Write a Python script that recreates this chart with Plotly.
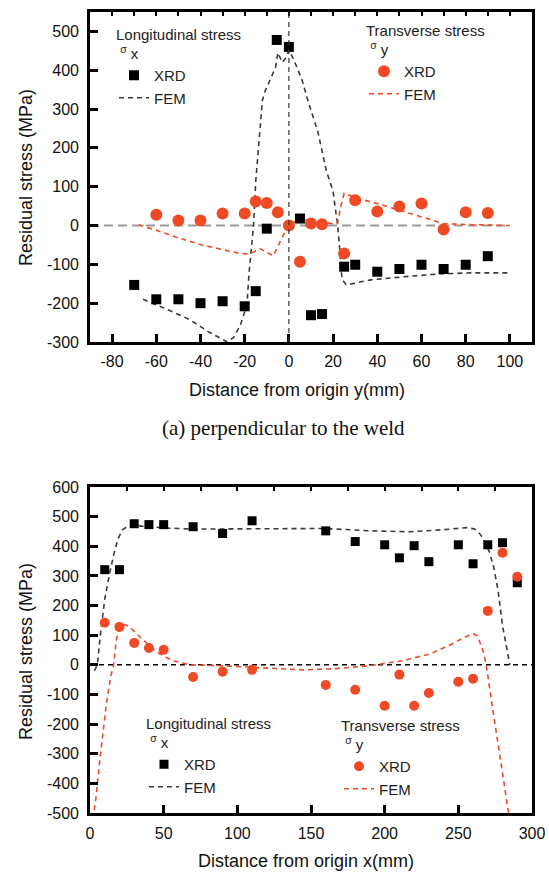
import plotly.graph_objects as go

W, H = 549, 872

# ---------------- (a) perpendicular to the weld ----------------
a_sx_xrd_pos = [-70, -60, -50, -40, -30, -20, -15, -10, -5.5, 0, 5, 10, 15, 25, 30, 40, 50, 60, 70, 80, 90]
a_sx_xrd_val = [-153, -190, -190, -200, -195, -208, -169, -8, 478, 460, 18, -231, -228, -106, -101, -119, -112, -101, -112, -101, -79]

a_sy_xrd_pos = [-60, -50, -40, -30, -20, -15, -10, -5, 0, 5, 10, 15, 25, 30, 40, 50, 60, 70, 80, 90]
a_sy_xrd_val = [28, 13, 13, 31, 31, 62, 58, 34, 0, -93, 5, 3, -72, 65, 36, 49, 57, -10, 34, 32]

a_sx_fem_pos = [-66, -55, -45, -36, -31, -28, -25, -22, -19, -18, -16, -15, -14, -12, -11, -8, -6, -5, -3, -1, 0,
                2, 4, 6, 9, 13, 17, 20, 21, 22, 23, 24, 26, 37, 52, 67, 82, 100]
a_sx_fem_val = [-190, -216, -242, -275, -290, -300, -288, -257, -205, -120, 0, 114, 184, 322, 343, 382, 408, 445, 420, 435, 452,
                430, 400, 374, 314, 244, 140, 88, 44, 3, -60, -138, -153, -140, -132, -125, -122, -122]

a_sy_fem_pos = [-68, -60, -50, -40, -30, -22, -19, -16, -13, -10, -7, -4, -1, 2, 5, 8, 12, 16, 20, 22, 23.5, 25,
                31, 41, 52, 63, 70, 78, 90, 100]
a_sy_fem_val = [2, -12, -32, -49, -62, -72, -73, -68, -60, -70, -78, -42, -8, 8, 14, 15, 12, 8, 4, 5, 50, 83,
                70, 55, 36, 18, 5, 3, 1, 0]

a_zero_x = [-90, 100]
a_zero_y = [0, 0]
a_xticks = [-80, -60, -40, -20, 0, 20, 40, 60, 80, 100]
a_yticks = [-300, -200, -100, 0, 100, 200, 300, 400, 500]

# ---------------- (b) along the weld ----------------
b_sx_xrd_pos = [10, 20, 30, 40, 50, 70, 90, 110, 160, 180, 200, 210, 220, 230, 250, 260, 270, 280, 290]
b_sx_xrd_val = [321, 321, 476, 473, 473, 466, 443, 486, 452, 416, 405, 361, 402, 348, 405, 341, 405, 412, 277]

b_sy_xrd_pos = [10, 20, 30, 40, 50, 70, 90, 110, 160, 180, 200, 210, 220, 230, 250, 260, 270, 280, 290]
b_sy_xrd_val = [142, 128, 74, 57, 51, -41, -23, -17, -68, -84, -138, -33, -138, -95, -57, -47, 182, 378, 297]

b_sx_fem_pos = [3, 5, 7, 10, 13, 16, 19, 22, 25, 29, 35, 50, 70, 100, 130, 160, 190, 217, 240, 256, 261, 265,
                268, 271, 274, 277, 280, 283, 285]
b_sx_fem_val = [-20, 0, 98, 222, 300, 370, 425, 455, 466, 472, 468, 462, 458, 459, 458, 460, 452, 449, 456, 463, 458, 440,
                415, 382, 330, 250, 132, 44, 0]

b_sy_fem_pos = [2, 4, 7, 11, 14, 16, 18, 21, 24, 27, 33, 40, 45, 56, 68, 88, 110, 129, 145, 167, 190, 212, 231,
                246, 255, 260, 263, 267, 269, 273, 278, 284, 286]
b_sy_fem_val = [-520, -450, -307, -138, -40, -3, 88, 132, 135, 128, 98, 65, 44, 14, 0, -3, -8, -13, -17, -13, -3, 14, 37,
                71, 95, 105, 98, 44, -3, -138, -307, -497, -520]

b_zero_x = [0, 300]
b_zero_y = [0, 0]
b_xticks = [0, 50, 100, 150, 200, 250, 300]
b_yticks = [-500, -400, -300, -200, -100, 0, 100, 200, 300, 400, 500, 600]

# ---------------- style ----------------
FONT = "Liberation Sans, Arial, sans-serif"
BLACK = "#000000"
RED = "#F04A24"
FEMDARK = "#3a3a3a"


def px(x):
    return x / W


def py(y):
    return 1 - y / H


def labels(vals):
    return [str(v) for v in vals]


fig = go.Figure()

# (a) traces
fig.add_trace(go.Scatter(x=a_zero_x, y=a_zero_y, mode="lines", xaxis="x", yaxis="y",
                         line=dict(color="#9a9a9a", width=2, dash="9px,5px"), showlegend=False, hoverinfo="skip"))
fig.add_trace(go.Scatter(x=a_sx_fem_pos, y=a_sx_fem_val, mode="lines", name="FEM", xaxis="x", yaxis="y",
                         line=dict(color=FEMDARK, width=1.6, dash="5px,4px"), legend="legend", legendrank=2))
fig.add_trace(go.Scatter(x=a_sy_fem_pos, y=a_sy_fem_val, mode="lines", name="FEM", xaxis="x", yaxis="y",
                         line=dict(color=RED, width=1.6, dash="5px,4px"), legend="legend2", legendrank=2))
fig.add_trace(go.Scatter(x=a_sx_xrd_pos, y=a_sx_xrd_val, mode="markers", name="XRD", xaxis="x", yaxis="y",
                         marker=dict(symbol="square", size=10, color=BLACK), legend="legend", legendrank=1))
fig.add_trace(go.Scatter(x=a_sy_xrd_pos, y=a_sy_xrd_val, mode="markers", name="XRD", xaxis="x", yaxis="y",
                         marker=dict(symbol="circle", size=12, color=RED), legend="legend2", legendrank=1))

# (b) traces
fig.add_trace(go.Scatter(x=b_zero_x, y=b_zero_y, mode="lines", xaxis="x2", yaxis="y2",
                         line=dict(color=BLACK, width=1.4, dash="5px,4px"), showlegend=False, hoverinfo="skip"))
fig.add_trace(go.Scatter(x=b_sx_fem_pos, y=b_sx_fem_val, mode="lines", name="FEM", xaxis="x2", yaxis="y2",
                         line=dict(color=FEMDARK, width=1.6, dash="5px,4px"), legend="legend3", legendrank=2))
fig.add_trace(go.Scatter(x=b_sy_fem_pos, y=b_sy_fem_val, mode="lines", name="FEM", xaxis="x2", yaxis="y2",
                         line=dict(color=RED, width=1.6, dash="5px,4px"), legend="legend4", legendrank=2))
fig.add_trace(go.Scatter(x=b_sx_xrd_pos, y=b_sx_xrd_val, mode="markers", name="XRD", xaxis="x2", yaxis="y2",
                         marker=dict(symbol="square", size=9, color=BLACK), legend="legend3", legendrank=1))
fig.add_trace(go.Scatter(x=b_sy_xrd_pos, y=b_sy_xrd_val, mode="markers", name="XRD", xaxis="x2", yaxis="y2",
                         marker=dict(symbol="circle", size=10, color=RED), legend="legend4", legendrank=1))

# invisible helpers so that top tick axes are drawn
fig.add_trace(go.Scatter(x=[], y=[], xaxis="x3", yaxis="y", showlegend=False, hoverinfo="skip"))
fig.add_trace(go.Scatter(x=[], y=[], xaxis="x4", yaxis="y2", showlegend=False, hoverinfo="skip"))

# vertical line at origin in (a)
fig.add_shape(type="line", xref="x", yref="y domain", x0=0, x1=0, y0=0, y1=1,
              line=dict(color="#333333", width=1.2, dash="5px,4px"))

axis_common = dict(showgrid=False, zeroline=False, showline=True, linecolor=BLACK, linewidth=2.6,
                   mirror=True, ticks="inside", ticklen=8, tickwidth=2.6, tickcolor=BLACK, automargin=False,
                   tickfont=dict(family=FONT, size=16, color="#111111"), fixedrange=True)

xdom = [px(90), px(532)]

fig.update_layout(
    width=W, height=H,
    margin=dict(l=0, r=0, t=0, b=0, autoexpand=False),
    paper_bgcolor="white", plot_bgcolor="white",
    font=dict(family=FONT, color="#111111"),
    xaxis=dict(domain=xdom, range=[-90, 110], tickvals=a_xticks, ticktext=labels(a_xticks), anchor="y",
               ticklabelstandoff=3, **axis_common),
    yaxis=dict(domain=[py(342), py(12)], range=[-300, 550], tickvals=a_yticks, ticktext=labels(a_yticks),
               anchor="x", ticklabelstandoff=5, **axis_common),
    xaxis2=dict(domain=xdom, range=[0, 300], tickvals=b_xticks, ticktext=labels(b_xticks), anchor="y2",
                ticklabelstandoff=4, **axis_common),
    yaxis2=dict(domain=[py(813), py(487)], range=[-500, 600], tickvals=b_yticks, ticktext=labels(b_yticks),
                anchor="x2", ticklabelstandoff=5, **axis_common),
    xaxis3=dict(overlaying="x", side="top", anchor="y", range=[-90, 110], dtick=10, tick0=0,
                ticks="inside", ticklen=4, tickwidth=1.5, tickcolor=BLACK, showticklabels=False,
                showline=False, showgrid=False, zeroline=False, fixedrange=True, automargin=False),
    xaxis4=dict(overlaying="x2", side="top", anchor="y2", range=[0, 300], dtick=25, tick0=0,
                ticks="inside", ticklen=4, tickwidth=1.5, tickcolor=BLACK, showticklabels=False,
                showline=False, showgrid=False, zeroline=False, fixedrange=True, automargin=False),
    showlegend=True,
)

leg_common = dict(xanchor="left", yanchor="top", bgcolor="rgba(0,0,0,0)", borderwidth=0,
                  font=dict(family=FONT, size=15, color="#222222"), itemwidth=30,
                  tracegroupgap=0)

fig.update_layout(
    legend=dict(x=px(114), y=py(20),
                title=dict(text="Longitudinal stress<br>&nbsp;<sup>σ</sup> x",
                           font=dict(family=FONT, size=15, color="#222222")), **leg_common),
    legend2=dict(x=px(364), y=py(16),
                 title=dict(text="Transverse stress<br>&nbsp;<sup>σ</sup> y",
                            font=dict(family=FONT, size=15, color="#222222")), **leg_common),
    legend3=dict(x=px(144), y=py(709),
                 title=dict(text="Longitudinal stress<br>&nbsp;<sup>σ</sup> x",
                            font=dict(family=FONT, size=15, color="#222222")), **leg_common),
    legend4=dict(x=px(339), y=py(711),
                 title=dict(text="Transverse stress<br>&nbsp;<sup>σ</sup> y",
                            font=dict(family=FONT, size=15, color="#222222")), **leg_common),
)

ann = [
    dict(text="Residual stress (MPa)", x=px(26), y=py(178), textangle=-90, size=18),
    dict(text="Distance from origin y(mm)", x=px(297), y=py(390), textangle=0, size=18),
    dict(text="Residual stress (MPa)", x=px(26), y=py(652), textangle=-90, size=18),
    dict(text="Distance from origin x(mm)", x=px(306), y=py(861), textangle=0, size=18),
]
for a in ann:
    fig.add_annotation(text=a["text"], x=a["x"], y=a["y"], xref="paper", yref="paper",
                       xanchor="center", yanchor="middle", showarrow=False, textangle=a["textangle"],
                       font=dict(family=FONT, size=a["size"], color="#111111"))

fig.add_annotation(text="(a) perpendicular to the weld", x=px(283), y=py(428), xref="paper", yref="paper",
                   xanchor="center", yanchor="middle", showarrow=False,
                   font=dict(family="Liberation Serif, Times New Roman, serif", size=21, color="#111111"))

fig.write_html("out.html")
